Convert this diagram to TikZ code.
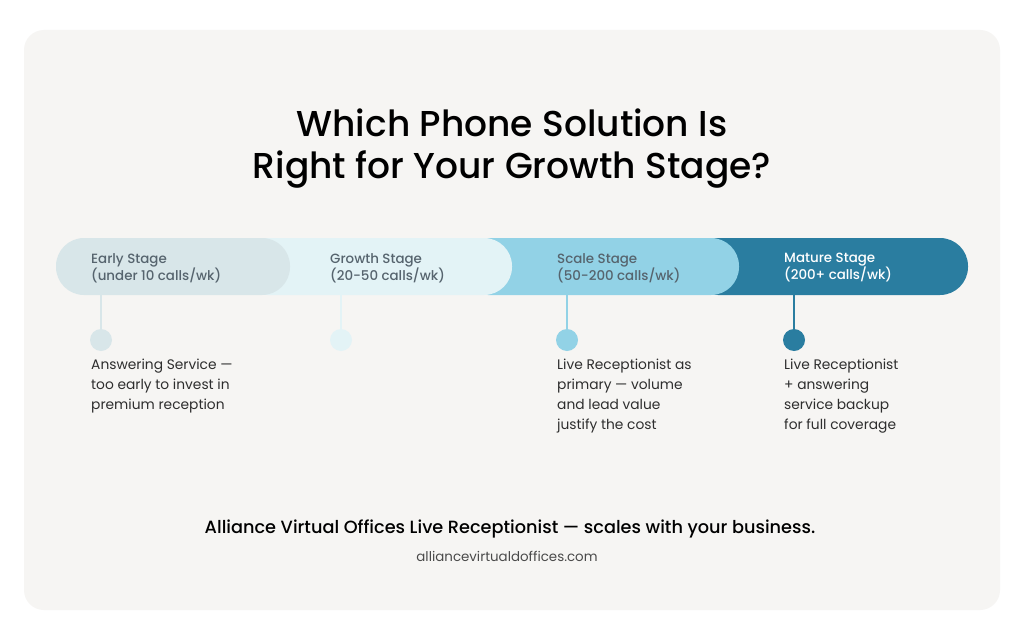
\documentclass[tikz,border=0pt]{standalone}
\usepackage{fontspec}
\setmainfont{Poppins}
\newfontfamily\popmed{Poppins}[UprightFont=* Medium]
\definecolor{cardbg}{HTML}{F6F5F3}
\definecolor{cEarly}{HTML}{D8E6E9}
\definecolor{cGrowth}{HTML}{E3F3F6}
\definecolor{cScale}{HTML}{92D2E6}
\definecolor{cMature}{HTML}{2A7DA0}
\definecolor{labgray}{HTML}{56646E}
\definecolor{txtdark}{HTML}{2E2E2E}
\definecolor{urlgray}{HTML}{4A4A4A}
\begin{document}
\begin{tikzpicture}[x=1pt,y=-1pt,
  seg/.style={rounded corners=28pt},
  stagelab/.style={anchor=north west,align=left,inner sep=0pt,font=\popmed\fontsize{13.4}{14.5}\selectfont,text=labgray},
  desc/.style={anchor=north west,align=left,inner sep=0pt,font=\fontsize{13.8}{20}\selectfont,text=txtdark},
  stem/.style={line width=2.5pt},
  dotc/.style={circle,minimum size=22pt,inner sep=0pt}]
\useasboundingbox (0,0) rectangle (1024,642);
\fill[white] (0,0) rectangle (1024,642);
\fill[cardbg,rounded corners=20pt] (24,30) rectangle (1000,610);
% title
\node[font=\popmed\fontsize{36}{42}\selectfont,align=center,text=black] (title) at (512,149) {Which Phone Solution Is\\Right for Your Growth Stage?};
% bar segments
\fill[cMature,seg] (690,238) rectangle (968,295);
\fill[cScale,seg] (460,238) rectangle (739,295);
\fill[cGrowth,seg] (240,238) rectangle (512,295);
\fill[cEarly,seg] (56,238) rectangle (290,295);
% stems and dots
\coordinate (e0) at (101,295); \node[dotc,fill=cEarly] (e1) at (101,340) {};
\coordinate (g0) at (341,295); \node[dotc,fill=cGrowth] (g1) at (341,340) {};
\coordinate (s0) at (567,295); \node[dotc,fill=cScale] (s1) at (567,340) {};
\coordinate (m0) at (794,295); \node[dotc,fill=cMature] (m1) at (794,340) {};
\draw[stem,cEarly] (e0) -- (e1);
\draw[stem,cGrowth] (g0) -- (g1);
\draw[stem,cScale] (s0) -- (s1);
\draw[stem,cMature] (m0) -- (m1);
% stage labels
\node[stagelab] (le) at (91,253) {Early Stage\\(under 10 calls/wk)};
\node[stagelab] (lg) at (330,253) {Growth Stage\\(20-50 calls/wk)};
\node[stagelab] (ls) at (557,253) {Scale Stage\\(50-200 calls/wk)};
\node[stagelab,text=white] (lm) at (784,253) {Mature Stage\\(200+ calls/wk)};
% descriptions
\node[desc] (de) at (91,359) {Answering Service —\\too early to invest in\\premium reception};
\node[desc] (ds) at (557,359) {Live Receptionist as\\primary — volume\\and lead value\\justify the cost};
\node[desc] (dm) at (784,359) {Live Receptionist\\+ answering\\service backup\\for full coverage};
% footer
\node[font=\popmed\fontsize{17.7}{20}\selectfont,text=black] (foot) at (510,529) {Alliance Virtual Offices Live Receptionist — scales with your business.};
\node[font=\fontsize{13.4}{15}\selectfont,text=urlgray] (url) at (507,556) {alliancevirtualdoffices.com};
\end{tikzpicture}
\end{document}
